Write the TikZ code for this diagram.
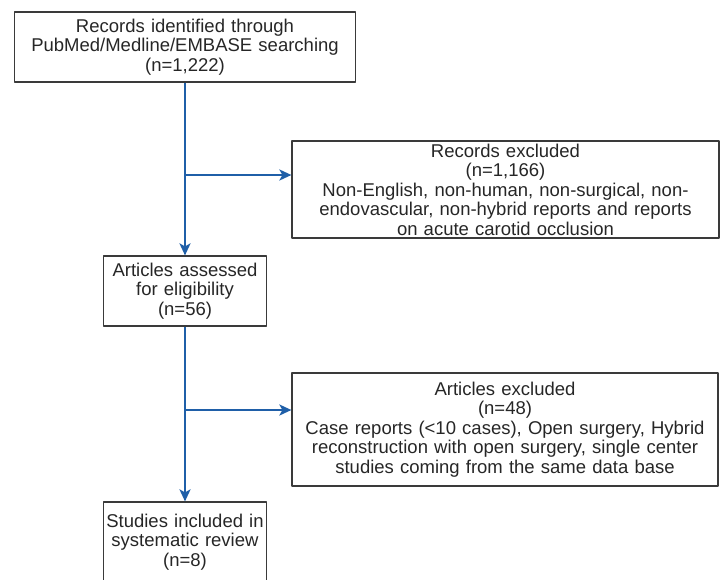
\documentclass[tikz,border=0pt]{standalone}
\usepackage{fontspec}
\setmainfont{Liberation Sans}
\usetikzlibrary{calc,arrows.meta}
\newcommand{\Unit}{1pt}
\newcommand{\Frame}{1.2pt}
\newcommand{\Flow}{2.2pt}
\newcommand{\Trunk}{185}
\definecolor{flowblue}{HTML}{1F5FA8}
\definecolor{framegrey}{HTML}{3A3A3A}
\definecolor{ink}{HTML}{262626}

\begin{document}
\begin{tikzpicture}[x=\Unit,y=-\Unit, line join=round,
  stage/.style={draw=framegrey, line width=\Frame, align=center, inner sep=0pt,
    text=ink, font=\fontsize{18.5}{19.5}\selectfont},
  flow/.style={draw=flowblue, line width=\Flow,
    -{Stealth[length=12pt,width=11pt,inset=3pt,flowblue]}}]

  \useasboundingbox (0,0) rectangle (725,579);

  % ---- the main column, top to bottom -------------------------------------
  \node[stage, minimum width=341pt, minimum height=70pt, text width=336pt]
    (identified) at (\Trunk,47)
    {Records identified through\\PubMed/Medline/EMBASE searching\\(n=1,222)};
  \node[stage, minimum width=163pt, minimum height=70pt, text width=160pt]
    (assessed) at (\Trunk,291)
    {Articles assessed\\for eligibility\\(n=56)};
  \node[stage, minimum width=163pt, minimum height=80pt, text width=160pt]
    (included) at (\Trunk,542)
    {Studies included in\\systematic review\\(n=8)};

  % ---- the two exclusion boxes on the right -------------------------------
  \node[stage, minimum width=427pt, minimum height=97pt, text width=422pt]
    (recexcl) at (505.5,189.5)
    {Records excluded\\(n=1,166)\\Non-English, non-human, non-surgical, non-\\
     endovascular, non-hybrid reports and reports\\on acute carotid occlusion};
  \node[stage, minimum width=426pt, minimum height=113pt, text width=422pt]
    (artexcl) at (505,429.5)
    {Articles excluded\\(n=48)\\Case reports (<10 cases), Open surgery, Hybrid\\
     reconstruction with open surgery, single center\\studies coming from the same data base};

  % ---- where the side arrows leave the trunk ------------------------------
  \coordinate (split1) at (\Trunk,175);
  \coordinate (split2) at (\Trunk,410);

  % ---- the arrows ---------------------------------------------------------
  \draw[flow] (identified.south) -- (assessed.north);
  \draw[flow] (assessed.south) -- (included.north);
  \draw[flow] (split1) -- (split1 -| recexcl.west);
  \draw[flow] (split2) -- (split2 -| artexcl.west);

\end{tikzpicture}
\end{document}
